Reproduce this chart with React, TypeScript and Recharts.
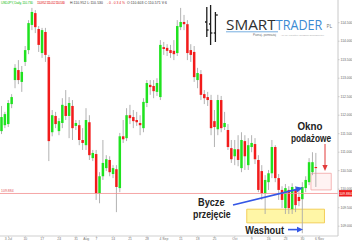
import React from 'react';
import { ComposedChart, Bar, XAxis, YAxis, ReferenceLine, ReferenceArea } from 'recharts';

// Daily OHLC, oldest first
const opens = [
  111.57, 111.73, 111.76, 112.3, 112.95, 113.22, 112.9, 113.44, 113.76, 114.44,
  114.76, 114.33, 113.68, 114.25, 113.57, 111.54, 111.98, 111.57, 111.79, 112.25,
  111.98, 112.25, 111.71, 111.73, 111.33, 111.19, 111.81, 110.84, 110.95, 109.89,
  110.35, 110.57, 110.79, 110.41, 110.54, 110.03, 111.43, 111.38, 112.0, 111.95,
  111.87, 111.79, 111.65, 112.33, 112.82, 112.79, 112.63, 112.49, 113.84, 113.82,
  113.76, 113.74, 113.68, 114.38, 114.52, 114.46, 113.76, 113.71, 112.95, 113.11,
  112.57, 112.49, 112.41, 111.84, 111.62, 112.41, 111.68, 111.6, 111.11, 110.89,
  111.08, 110.57, 111.3, 110.65, 111.14, 111.22, 110.79, 110.49, 109.89, 110.19,
  110.43, 111.14, 110.3, 109.98, 109.49, 109.98, 109.46, 109.98, 109.79, 109.73,
  110.03, 110.19, 110.46, 110.6,
];
const highs = [
  112.25, 112.09, 112.41, 112.57, 113.38, 113.49, 113.33, 113.87, 114.57, 114.9,
  114.84, 114.41, 114.36, 114.36, 113.63, 112.14, 112.09, 111.92, 112.46, 112.68,
  112.49, 112.41, 111.87, 111.87, 111.65, 112.19, 112.0, 111.06, 111.06, 110.46,
  111.33, 110.92, 110.89, 110.65, 110.65, 111.52, 111.87, 112.19, 112.28, 112.14,
  112.09, 112.0, 112.46, 112.95, 112.95, 112.95, 113.0, 114.03, 113.98, 113.92,
  113.9, 114.03, 114.57, 114.9, 114.71, 114.57, 113.92, 113.87, 113.28, 113.22,
  112.68, 112.63, 112.55, 112.14, 112.55, 112.52, 112.09, 111.76, 111.33, 111.33,
  111.46, 111.54, 111.46, 111.38, 111.46, 111.38, 110.92, 110.65, 110.38, 110.52,
  111.33, 111.19, 110.41, 110.08, 110.14, 110.08, 110.16, 110.08, 109.98, 110.19,
  110.35, 110.84, 111.0, 110.98,
];
const lows = [
  111.49, 111.65, 111.68, 112.19, 112.73, 112.84, 112.63, 113.33, 113.65, 114.3,
  114.22, 113.71, 113.55, 113.44, 110.76, 111.43, 111.65, 111.46, 111.65, 111.87,
  111.38, 111.33, 111.6, 111.19, 111.06, 111.06, 110.79, 110.76, 109.71, 109.62,
  110.25, 110.49, 110.35, 110.3, 109.38, 109.92, 111.25, 111.3, 111.76, 111.65,
  111.71, 111.46, 111.54, 112.22, 112.55, 112.46, 112.52, 112.41, 113.63, 113.6,
  113.55, 113.49, 113.6, 114.3, 114.3, 113.49, 113.44, 112.9, 112.73, 112.41,
  112.3, 112.25, 111.46, 111.14, 111.46, 111.54, 111.6, 111.06, 110.71, 110.65,
  110.62, 110.46, 110.52, 110.52, 111.0, 110.68, 109.92, 109.71, 109.33, 109.98,
  110.3, 110.19, 109.71, 109.49, 109.33, 109.33, 109.33, 109.38, 109.54, 108.81,
  109.92, 110.11, 110.38, 110.06,
];
const closes = [
  111.95, 112.03, 112.33, 112.49, 113.28, 112.95, 113.17, 113.76, 114.49, 114.79,
  114.38, 113.9, 114.3, 113.63, 111.3, 112.0, 111.76, 111.84, 112.28, 111.98,
  112.33, 111.65, 111.79, 111.33, 111.25, 111.87, 110.92, 110.98, 109.89, 110.35,
  110.71, 110.81, 110.46, 110.57, 110.06, 111.43, 111.35, 112.0, 111.92, 111.84,
  111.81, 111.73, 112.36, 112.87, 112.76, 112.65, 112.87, 113.9, 113.79, 113.74,
  113.68, 113.65, 114.41, 114.52, 114.46, 113.68, 113.63, 113.03, 113.14, 112.55,
  112.46, 112.41, 111.65, 111.68, 112.41, 111.65, 111.79, 111.14, 110.81, 111.08,
  110.79, 111.33, 110.89, 111.19, 111.25, 110.81, 109.98, 109.89, 110.25, 110.43,
  111.14, 110.3, 109.98, 109.71, 110.03, 109.49, 110.06, 109.57, 109.68, 110.06,
  110.25, 110.73, 110.73, 110.57,
];

// 100 daily slots on the time axis, the last few left empty
const SLOTS = 100;
const tickIdx = [2, 7, 12, 17, 22, 25, 28, 33, 38, 43, 48, 53, 58, 63, 69, 74, 79, 84, 89, 94];
const tickLabels = ['3 Jul', '10', '17', '24', '31', 'Aug', '7', '14', '21', '28', '4 Sep', '11', '18', '25', 'Oct', '9', '16', '23', '30', '6 Nov'];
const priceTicks = [109, 109.5, 110, 110.5, 111, 111.5, 112, 112.5, 113, 113.5, 114, 114.5];
const lastPrice = 109.884;

// zones marked on the chart
const washoutZone = { from: 73, to: 95, low: 109.09, high: 109.46 };
const supplyGap = { from: 92, to: 97, low: 109.98, high: 110.43 };

const GREEN = '#1fe21f';
const RED = '#f21b1b';
const BLUE = '#3457e6';
const FONT = '"Liberation Sans", Arial, sans-serif';
const LOGO_FONT = '"Open Sans", sans-serif';

const data = Array.from({ length: SLOTS }, (_, i) => ({
  idx: i,
  open: opens[i] ?? null,
  high: highs[i] ?? null,
  low: lows[i] ?? null,
  close: closes[i] ?? null,
}));

function renderCandle(props: any) {
  const { x, width, payload } = props;
  let { y, height } = props;
  if (!payload || payload.open == null || y == null) return <g />;
  if (height < 0) {
    y += height;
    height = -height;
  }
  const { open, close, high, low } = payload;
  const ppu = high > low ? height / (high - low) : 0;
  const cx = x + width / 2;
  const top = y + (high - Math.max(open, close)) * ppu;
  const bottom = y + (high - Math.min(open, close)) * ppu;
  const bodyW = 2.5;
  return (
    <g>
      <line x1={cx} x2={cx} y1={y} y2={y + height} stroke="#a9a9a9" strokeWidth={0.9} />
      <rect
        x={cx - bodyW / 2}
        y={top}
        width={bodyW}
        height={Math.max(bottom - top, 0.9)}
        fill={close >= open ? GREEN : RED}
      />
    </g>
  );
}

function PriceTag(props: any) {
  const { viewBox } = props;
  if (!viewBox) return null;
  const { x, y, width } = viewBox;
  const txt = lastPrice.toFixed(3);
  return (
    <g fontFamily={FONT}>
      <text x={x + 1} y={y - 1.2} fontSize={3.5} fill="#e25555">{txt}</text>
      <rect x={x + width + 1} y={y - 3.4} width={13} height={6.4} fill="#ee1c1c" />
      <text x={x + width + 7.5} y={y + 1.2} fontSize={3.5} fill="#fff" textAnchor="middle">{txt}</text>
    </g>
  );
}

// bold label squeezed horizontally
function Note({ x, y, sx, size = 10.5, children }: any) {
  return (
    <text transform={`translate(${x} ${y}) scale(${sx} 1)`} fontSize={size} fontWeight="bold" fill="#222">
      {children}
    </text>
  );
}

function Overlay() {
  return (
    <svg
      width={352}
      height={242}
      style={{ position: 'absolute', left: 0, top: 0, pointerEvents: 'none' }}
      fontFamily={FONT}
    >
      {/* quote header */}
      <g fontSize={3.4}>
        <text x={1} y={4} fill="#22c022" textLength={32}>USDJPY, Daily, 110.730</text>
        <text x={37} y={4} fill="#e52222" textLength={28}>110.952 111.012 110.530</text>
        <text x={70} y={4} fill="#333" textLength={33}>H:110.952 L:110.530</text>
        <text x={107} y={4} fill="#e52222" textLength={18}>-0.034%</text>
        <text x={127} y={4} fill="#333" textLength={40}>O:110.603 C:110.571 V:6</text>
      </g>

      {/* logo */}
      <g stroke="#1d1d1d" strokeWidth={1.3}>
        <line x1={206.8} x2={206.8} y1={7} y2={37} />
        <line x1={205} x2={206.8} y1={22} y2={22} />
        <line x1={206.8} x2={208.6} y1={30} y2={30} />
        <line x1={210.6} x2={210.6} y1={5} y2={45} />
        <line x1={209} x2={210.6} y1={24} y2={24} />
        <line x1={210.6} x2={212.4} y1={33} y2={33} />
        <line x1={215.4} x2={215.4} y1={12} y2={42} />
        <line x1={215.4} x2={217.8} y1={15} y2={15} />
        <line x1={213.8} x2={215.4} y1={33} y2={33} />
      </g>
      <g fontFamily={LOGO_FONT} fontSize={15}>
        <text transform="translate(226 29.6) scale(1.02 1)" fill="#2f2f2f">SMART</text>
        <text transform="translate(275.8 29.6) scale(0.84 1)" fill="#3c8bd3">TRADER</text>
      </g>
      <text x={326.5} y={28.3} fill="#777" fontSize={5} fontFamily={LOGO_FONT}>PL</text>
      <line x1={226} x2={278} y1={31.8} y2={31.8} stroke="#3c8bd3" strokeWidth={0.7} />
      <text x={253} y={35.8} fontSize={3} fill="#777" textLength={23}>Poznaj - pomnażaj</text>
      <text x={281} y={35.8} fontSize={2.5} fill="#b5b5b5" textLength={43}>| ZAUFAJ DOŚWIADCZENIU EKSPERTÓW</text>

      {/* annotations */}
      <Note x={297.5} y={130.3} sx={0.98} size={10}>Okno</Note>
      <Note x={291} y={141.7} sx={0.83} size={10}>podażowe</Note>
      <Note x={198} y={206} sx={0.875}>Bycze</Note>
      <Note x={193} y={218.4} sx={0.84}>przejęcie</Note>
      <Note x={245.3} y={234} sx={0.88}>Washout</Note>

      <line x1={233} y1={205} x2={297} y2={189.4} stroke={BLUE} strokeWidth={1.6} />
      <polygon points="303,187.8 296.9,192.4 295.5,186.6" fill={BLUE} />
      <line x1={288} y1={229.6} x2={297.5} y2={229.6} stroke={BLUE} strokeWidth={1.6} />
      <polygon points="303,229.6 297,226.8 297,232.4" fill={BLUE} />

      <line x1={325} y1={144} x2={325} y2={165.5} stroke="#e23a3a" strokeWidth={1} />
      <polygon points="325,171 322.4,165 327.6,165" fill="#e23a3a" />
    </svg>
  );
}

export default function App() {
  return (
    <div style={{ position: 'fixed', left: 0, top: 0, width: 352, height: 242, background: '#fff' }}>
      <ComposedChart
        width={352}
        height={242}
        data={data}
        margin={{ top: 0, right: 0, bottom: 0, left: 0 }}
        barCategoryGap={0}
        barGap={0}
      >
        <XAxis
          dataKey="idx"
          ticks={tickIdx}
          interval={0}
          tickFormatter={(v: number) => tickLabels[tickIdx.indexOf(v)] ?? ''}
          height={6}
          tickSize={1.5}
          tickMargin={0}
          tick={{ fontSize: 3.4, fill: '#777', fontFamily: FONT }}
          axisLine={{ stroke: '#cfcfcf' }}
          tickLine={{ stroke: '#cfcfcf' }}
        />
        <YAxis
          orientation="right"
          width={14}
          domain={[108.735, 115.114]}
          allowDataOverflow
          ticks={priceTicks}
          interval={0}
          tickFormatter={(v: number) => v.toFixed(3)}
          tickSize={1.5}
          tickMargin={1}
          tick={{ fontSize: 3.4, fill: '#666', fontFamily: FONT }}
          axisLine={{ stroke: '#c8c8c8' }}
          tickLine={{ stroke: '#c8c8c8' }}
        />
        <ReferenceArea
          x1={washoutZone.from}
          x2={washoutZone.to}
          y1={washoutZone.low}
          y2={washoutZone.high}
          fill="#fff6a6"
          fillOpacity={1}
          stroke="#f0c43c"
          strokeWidth={0.8}
        />
        <ReferenceArea
          x1={supplyGap.from}
          x2={supplyGap.to}
          y1={supplyGap.low}
          y2={supplyGap.high}
          fill="#fff3f3"
          fillOpacity={1}
          stroke="#f2a4a4"
          strokeWidth={0.8}
        />
        <ReferenceLine y={lastPrice} stroke="#f39090" strokeWidth={0.8} label={<PriceTag />} />
        <Bar
          dataKey={(d: any) => (d.open == null ? null : [d.low, d.high])}
          shape={renderCandle}
          isAnimationActive={false}
        />
      </ComposedChart>
      <Overlay />
    </div>
  );
}
